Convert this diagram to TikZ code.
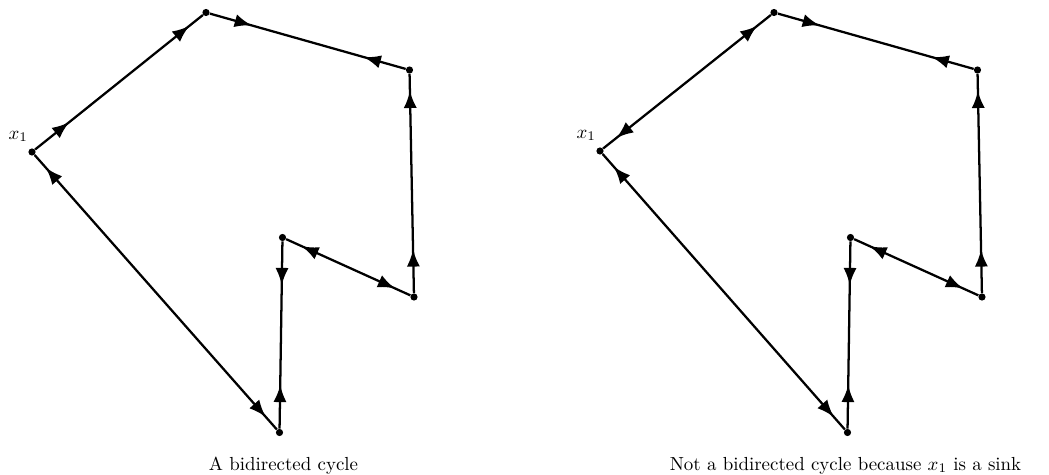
\documentclass[tikz,border=0pt]{standalone}
\usetikzlibrary{arrows.meta,decorations.markings}

\tikzset{
  >={Latex[length=9pt,width=7pt]},
  vertex/.style={circle, fill, inner sep=0pt, minimum size=3.8pt},
  edge/.style={line width=1.2pt},
  away start/.style={postaction={decorate, decoration={markings,
      mark=at position 23pt with {\arrow{>}}}}},
  into start/.style={postaction={decorate, decoration={markings,
      mark=at position 9pt with {\arrowreversed{>}}}}},
  away end/.style={postaction={decorate, decoration={markings,
      mark=at position -23pt with {\arrowreversed{>}}}}},
  into end/.style={postaction={decorate, decoration={markings,
      mark=at position -9pt with {\arrow{>}}}}},
}

\begin{document}
\begin{tikzpicture}[x=0.529pt, y=-0.529pt]
  \useasboundingbox (0,0) rectangle (1049,475);

  % left: a bidirected cycle
  \node[vertex] (a1) at (32,152) {};
  \node[vertex] (a2) at (206,12.5) {};
  \node[vertex] (a3) at (409.5,70) {};
  \node[vertex] (a4) at (414,297) {};
  \node[vertex] (a5) at (282.5,237.5) {};
  \node[vertex] (a6) at (279.5,432.5) {};
  \node[anchor=base west] (xa) at (2,139) {$x_1$};

  \draw[edge, away start, into end] (a1) -- (a2);
  \draw[edge, away start, away end] (a2) -- (a3);
  \draw[edge, into start, away end] (a3) -- (a4);
  \draw[edge, into start, into end] (a4) -- (a5);
  \draw[edge, away start, away end] (a5) -- (a6);
  \draw[edge, into start, into end] (a6) -- (a1);

  \node[anchor=base] (capa) at (283.5,470) {A bidirected cycle};

  % right: x_1 is a sink
  \node[vertex] (b1) at (600,151) {};
  \node[vertex] (b2) at (774,12.5) {};
  \node[vertex] (b3) at (977.5,70) {};
  \node[vertex] (b4) at (982,297) {};
  \node[vertex] (b5) at (850.5,237.5) {};
  \node[vertex] (b6) at (847.5,432.5) {};
  \node[anchor=base west] (xb) at (570,138) {$x_1$};

  \draw[edge, into start, into end] (b1) -- (b2);
  \draw[edge, away start, away end] (b2) -- (b3);
  \draw[edge, into start, away end] (b3) -- (b4);
  \draw[edge, into start, into end] (b4) -- (b5);
  \draw[edge, away start, away end] (b5) -- (b6);
  \draw[edge, into start, into end] (b6) -- (b1);

  \node[anchor=base] (capb) at (845.5,470) {Not a bidirected cycle because $x_1$ is a sink};
\end{tikzpicture}
\end{document}
